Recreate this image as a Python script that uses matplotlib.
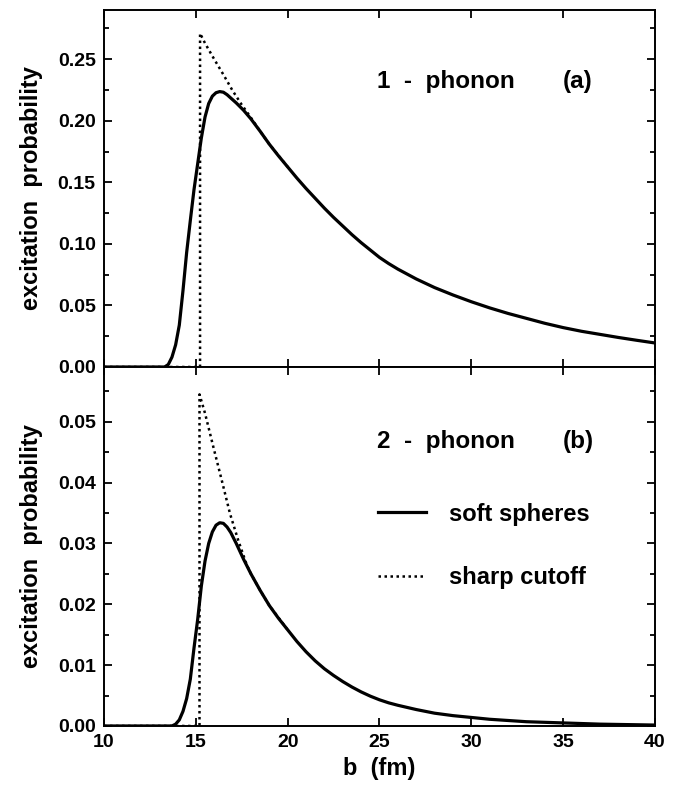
import numpy as np
import matplotlib
matplotlib.use('Agg')
import matplotlib.pyplot as plt
from matplotlib.ticker import MultipleLocator, FormatStrFormatter

plt.rcParams['font.family'] = ['Liberation Sans', 'DejaVu Sans']
plt.rcParams['font.weight'] = 'bold'
plt.rcParams['axes.labelweight'] = 'bold'

# (a) 1-phonon, soft spheres
b1_soft = [10, 13.3, 13.5, 13.7, 13.9, 14.1, 14.3, 14.5, 14.7, 14.9, 15.1, 15.3, 15.5,
           15.7, 15.9, 16.1, 16.3, 16.5, 16.7, 16.9, 17.2, 17.6, 18.0, 18.5, 19.0, 19.5,
           20.0, 20.5, 21, 21.5, 22, 22.5, 23, 23.5, 24, 24.5, 25, 25.5, 26, 27, 28, 29,
           30, 31, 32, 33, 34, 35, 36, 37, 38, 39, 40]
p1_soft = [0, 0, 0.002, 0.008, 0.018, 0.034, 0.062, 0.093, 0.119, 0.144, 0.165, 0.186,
           0.203, 0.214, 0.220, 0.2228, 0.2237, 0.2232, 0.2212, 0.2185, 0.2145, 0.2085,
           0.2015, 0.1915, 0.1810, 0.1715, 0.1625, 0.1535, 0.145, 0.137, 0.129, 0.1215,
           0.1145, 0.1075, 0.101, 0.095, 0.089, 0.084, 0.0795, 0.0715, 0.0645, 0.0585,
           0.053, 0.048, 0.0435, 0.0395, 0.0355, 0.032, 0.029, 0.0265, 0.024, 0.0217, 0.0195]
# (a) 1-phonon, sharp cutoff
b1_sharp = [10, 15.23, 15.23, 15.5, 16.0, 16.5, 17.0, 17.5, 18.0, 18.5, 19.0, 20.0]
p1_sharp = [0, 0, 0.271, 0.263, 0.250, 0.2375, 0.2245, 0.213, 0.2025, 0.1915, 0.181, 0.1625]

# (b) 2-phonon, soft spheres
b2_soft = [10, 13.7, 13.9, 14.1, 14.3, 14.5, 14.7, 14.9, 15.1, 15.3, 15.5, 15.7, 15.9,
           16.1, 16.3, 16.5, 16.7, 16.9, 17.2, 17.6, 18.0, 18.5, 19.0, 19.5, 20.0, 20.5,
           21.0, 21.5, 22, 22.5, 23, 23.5, 24, 24.5, 25, 25.5, 26, 27, 28, 29, 30, 31, 32,
           33, 34, 35, 36, 37, 38, 39, 40]
p2_soft = [0, 0, 0.0003, 0.0010, 0.0024, 0.0045, 0.0077, 0.0128, 0.0175, 0.0230, 0.0271,
           0.0300, 0.0319, 0.0330, 0.0334, 0.0333, 0.0327, 0.0318, 0.0300, 0.0274, 0.0250,
           0.0223, 0.0198, 0.0177, 0.0158, 0.0139, 0.0122, 0.0107, 0.0094, 0.0083, 0.0073,
           0.0064, 0.0056, 0.0049, 0.0043, 0.0038, 0.0034, 0.0027, 0.0021, 0.0017, 0.0014,
           0.0011, 0.0009, 0.0007, 0.0006, 0.0005, 0.0004, 0.0003, 0.00025, 0.0002, 0.00015]
# (b) 2-phonon, sharp cutoff
b2_sharp = [10, 15.2, 15.2, 15.5, 15.95, 16.41, 16.86, 17.31, 17.77, 18.0, 18.5, 19.0, 20.0]
p2_sharp = [0, 0, 0.0545, 0.0514, 0.0459, 0.0404, 0.0349, 0.0305, 0.0265, 0.0250, 0.0223,
            0.0198, 0.0158]

fig = plt.figure(figsize=(6.74, 7.85), dpi=100)
ax1 = fig.add_axes([0.1543, 0.5325, 0.8175, 0.4548])
ax2 = fig.add_axes([0.1543, 0.0752, 0.8175, 0.4573])

dot = (0, (1, 1.4))
ax1.plot(b1_sharp, p1_sharp, color='black', lw=1.8, ls=dot)
ax1.plot(b1_soft, p1_soft, color='black', lw=2.3)
ax2.plot(b2_soft, p2_soft, color='black', lw=2.3, label='soft spheres')
ax2.plot(b2_sharp, p2_sharp, color='black', lw=1.8, ls=dot, label='sharp cutoff')

for ax, top, step, minor in [(ax1, 0.29, 0.05, 0.025), (ax2, 0.059, 0.01, 0.005)]:
    ax.set_xlim(10, 40)
    ax.set_ylim(0, top)
    ax.xaxis.set_major_locator(MultipleLocator(5))
    ax.yaxis.set_major_locator(MultipleLocator(step))
    ax.yaxis.set_minor_locator(MultipleLocator(minor))
    ax.yaxis.set_major_formatter(FormatStrFormatter('%.2f'))
    ax.tick_params(which='both', direction='in', top=True, right=True, width=1.3,
                   labelsize=14)
    ax.tick_params(which='major', length=6, pad=6)
    ax.tick_params(which='minor', length=3.5)
    for s in ax.spines.values():
        s.set_linewidth(1.4)
    ax.set_ylabel('excitation  probability', fontsize=17, va='center')
    ax.yaxis.set_label_coords(-0.132, 0.5)

ax1.tick_params(labelbottom=False)
ax2.set_xlabel('b  (fm)', fontsize=17, labelpad=4)

ax1.text(24.85, 0.2317, '1  -  phonon', fontsize=17.5, va='center', ha='left')
ax1.text(35.0, 0.2317, '(a)', fontsize=17.5, va='center', ha='left')
ax2.text(24.85, 0.0467, '2  -  phonon', fontsize=17.5, va='center', ha='left')
ax2.text(35.0, 0.0467, '(b)', fontsize=17.5, va='center', ha='left')

ax2.legend(loc='upper left', bbox_to_anchor=(0.497, 0.622), frameon=False, fontsize=17,
           handlelength=2.03, handletextpad=1.0, labelspacing=1.72, borderpad=0,
           borderaxespad=0)

fig.savefig('out.png', dpi=100)
